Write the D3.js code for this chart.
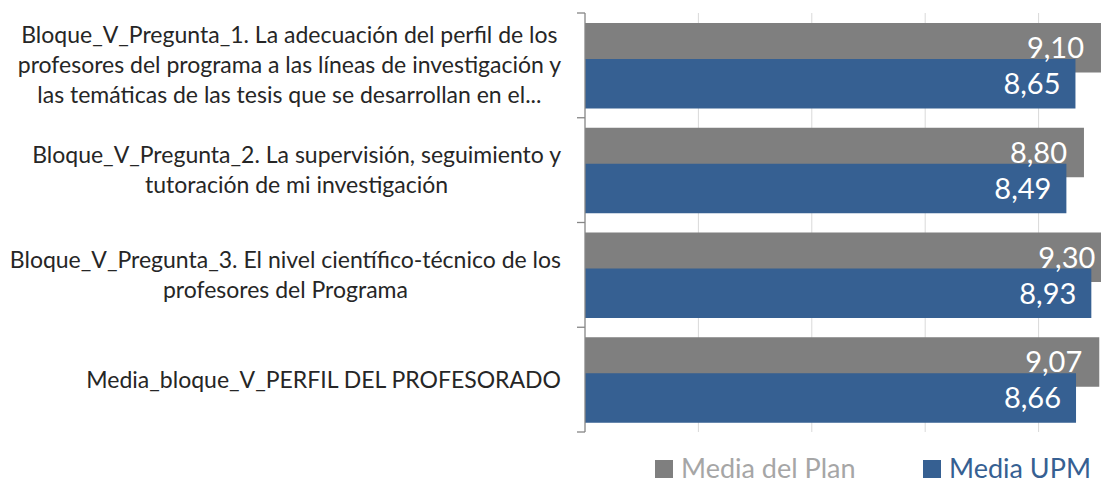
<!DOCTYPE html>
<html>
<head>
<meta charset="utf-8">
<script src="https://cdn.jsdelivr.net/npm/d3@7"></script>
<style>
  html, body { margin: 0; padding: 0; background: #fff; }
  svg { display: block; font-family: Lato, "Open Sans", sans-serif; }
</style>
</head>
<body>
<div id="chart"></div>
<script>
const categories = [
  ["Bloque_V_Pregunta_1. La adecuación del perfil de los", "profesores del programa a las líneas de investigación y", "las temáticas de las tesis que se desarrollan en el..."],
  ["Bloque_V_Pregunta_2. La supervisión, seguimiento y", "tutoración de mi investigación"],
  ["Bloque_V_Pregunta_3. El nivel científico-técnico de los", "profesores del Programa"],
  ["Media_bloque_V_PERFIL DEL PROFESORADO"]
];
const mediaPlan = [9.10, 8.80, 9.30, 9.07];
const mediaUPM = [8.65, 8.49, 8.93, 8.66];
const gridTicks = [2, 4, 6, 8, 10];
const seriesNames = ["Media del Plan", "Media UPM"];

const w = 1101, h = 483;
const colors = ["#7f7f7f", "#366092"];
const legendText = ["#a6a6a6", "#366092"];

const svg = d3.select("#chart").append("svg")
  .attr("width", w).attr("height", h);

const x = d3.scaleLinear().domain([0, 10]).range([585, 1152]);
const y = d3.scaleBand().domain(d3.range(categories.length)).range([13, 432]);

// gridlines
svg.append("g")
  .selectAll("line")
  .data(gridTicks)
  .enter()
  .append("line")
  .attr("x1", d => x(d)).attr("x2", d => x(d))
  .attr("y1", 13).attr("y2", 432)
  .attr("stroke", "#d9d9d9").attr("stroke-width", 1);

// bars: gray first, blue overlapping below it
const barH = 49.5, pad = 10, shift = 36;
const series = [mediaPlan, mediaUPM];

series.forEach((vals, s) => {
  svg.append("g")
    .selectAll("rect")
    .data(vals)
    .enter()
    .append("rect")
    .attr("x", x(0))
    .attr("y", (d, i) => y(i) + pad + s * shift)
    .attr("width", d => x(d) - x(0))
    .attr("height", barH)
    .attr("fill", colors[s]);
});

// value labels
const fmt = v => d3.format(".2f")(v).replace(".", ",");
const inset = [17, 15];
series.forEach((vals, s) => {
  svg.append("g")
    .selectAll("text")
    .data(vals)
    .enter()
    .append("text")
    .attr("x", d => x(d) - inset[s])
    .attr("y", (d, i) => y(i) + pad + s * shift + barH / 2)
    .attr("dy", "0.36em")
    .attr("text-anchor", "end")
    .attr("fill", "#fff")
    .style("font-size", "29px")
    .text(d => fmt(d));
});

// category axis
const axis = svg.append("g").attr("stroke", "#868686").attr("stroke-width", 1.3);
axis.append("line")
  .attr("x1", x(0)).attr("x2", x(0))
  .attr("y1", 13).attr("y2", 432);
axis.selectAll("line.tick")
  .data(d3.range(categories.length + 1))
  .enter()
  .append("line")
  .attr("class", "tick")
  .attr("x1", x(0) - 8).attr("x2", x(0))
  .attr("y1", i => 13 + i * y.bandwidth())
  .attr("y2", i => 13 + i * y.bandwidth());

// category labels (lines centred in a block that is right-aligned)
const lineH = 30;
categories.forEach((lines, i) => {
  const g = svg.append("g");
  const cy = y(i) + y.bandwidth() / 2;
  const texts = g.selectAll("text")
    .data(lines)
    .enter()
    .append("text")
    .attr("text-anchor", "middle")
    .attr("y", (d, j) => cy + (j - (lines.length - 1) / 2) * lineH)
    .attr("dy", "0.35em")
    .attr("fill", "#262626")
    .style("font-size", "23px")
    .text(d => d);
  let maxW = 0;
  texts.each(function () { maxW = Math.max(maxW, this.getComputedTextLength()); });
  texts.attr("x", 561 - maxW / 2);
});

// legend
const legendX = [655, 923];
seriesNames.forEach((name, s) => {
  const g = svg.append("g").attr("transform", `translate(${legendX[s]},0)`);
  g.append("rect")
    .attr("x", 0).attr("y", 460)
    .attr("width", 18).attr("height", 18)
    .attr("fill", colors[s]);
  g.append("text")
    .attr("x", 26).attr("y", 478)
    .attr("fill", legendText[s])
    .style("font-size", "27px")
    .text(name);
});
</script>
</body>
</html>
